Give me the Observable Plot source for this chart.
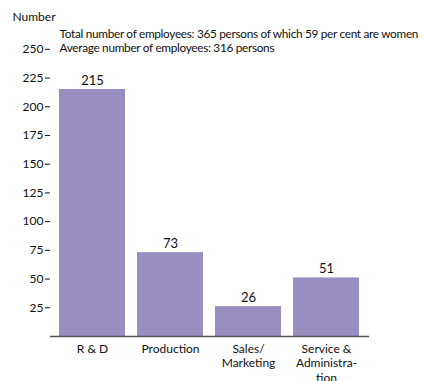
<!DOCTYPE html>
<html><head><meta charset="utf-8">
<script src="https://cdn.jsdelivr.net/npm/d3@7"></script>
<script src="https://cdn.jsdelivr.net/npm/@observablehq/plot@0.6"></script>
<style>
body{margin:0;background:#fff;}
svg{font-family:Lato,"Open Sans",sans-serif;}
</style></head><body>
<div id="chart"></div>
<script>
const categories = ["R & D", "Production", "Sales/\nMarketing", "Service &\nAdministra-\ntion"];
const employees = [215, 73, 26, 51];
const yTicks = [25, 50, 75, 100, 125, 150, 175, 200, 225, 250];
const notes = ["Total number of employees: 365 persons of which 59 per cent are women", "Average number of employees: 316 persons"];
const yLabel = "Number";

const data = categories.map((c, i) => ({category: c, value: employees[i]}));
const barColor = "#9a8dc1";

const plot = Plot.plot({
  width: 424, height: 381,
  marginLeft: 50, marginRight: 55, marginTop: 27, marginBottom: 45,
  style: {fontFamily: "Lato, 'Open Sans', sans-serif", fontSize: "12px", color: "#111", background: "#fff"},
  x: {domain: categories, paddingInner: 0.15, paddingOuter: 0.1, label: null},
  y: {domain: [0, 269], label: null},
  marks: [
    Plot.barY(data, {x: "category", y: "value", fill: barColor}),
    Plot.text(data, {x: "category", y: "value", text: d => String(d.value), dy: -5, lineAnchor: "bottom", fontSize: 13, fill: "#111"}),
    Plot.axisY({ticks: yTicks, tickSize: 5, tickPadding: 2, fontSize: 12, label: null, tickFormat: d => String(d)}),
    Plot.axisX({tickSize: 0, tickPadding: 6, fontSize: 12, lineHeight: 1.2, label: null, lineAnchor: "top"}),
    Plot.ruleX([0], {frameAnchor: "left", stroke: "#333", strokeWidth: 1.3}),
    Plot.ruleY([0], {stroke: "#555", strokeWidth: 1.3}),
    Plot.text([yLabel], {frameAnchor: "top-left", dx: -38, dy: -10, textAnchor: "start", lineAnchor: "middle", fontSize: 12, fill: "#111"}),
    Plot.text([notes.join("\n")], {frameAnchor: "top-left", dx: 9, dy: 0, textAnchor: "start", lineAnchor: "top", lineHeight: 1.2, fontSize: 11.8, fill: "#111", ariaLabel: () => "notes"})
  ]
});
d3.select(plot).selectAll('text[aria-label="notes"]').style("letter-spacing", "-0.3px");
document.getElementById("chart").append(plot);
</script>
</body></html>
